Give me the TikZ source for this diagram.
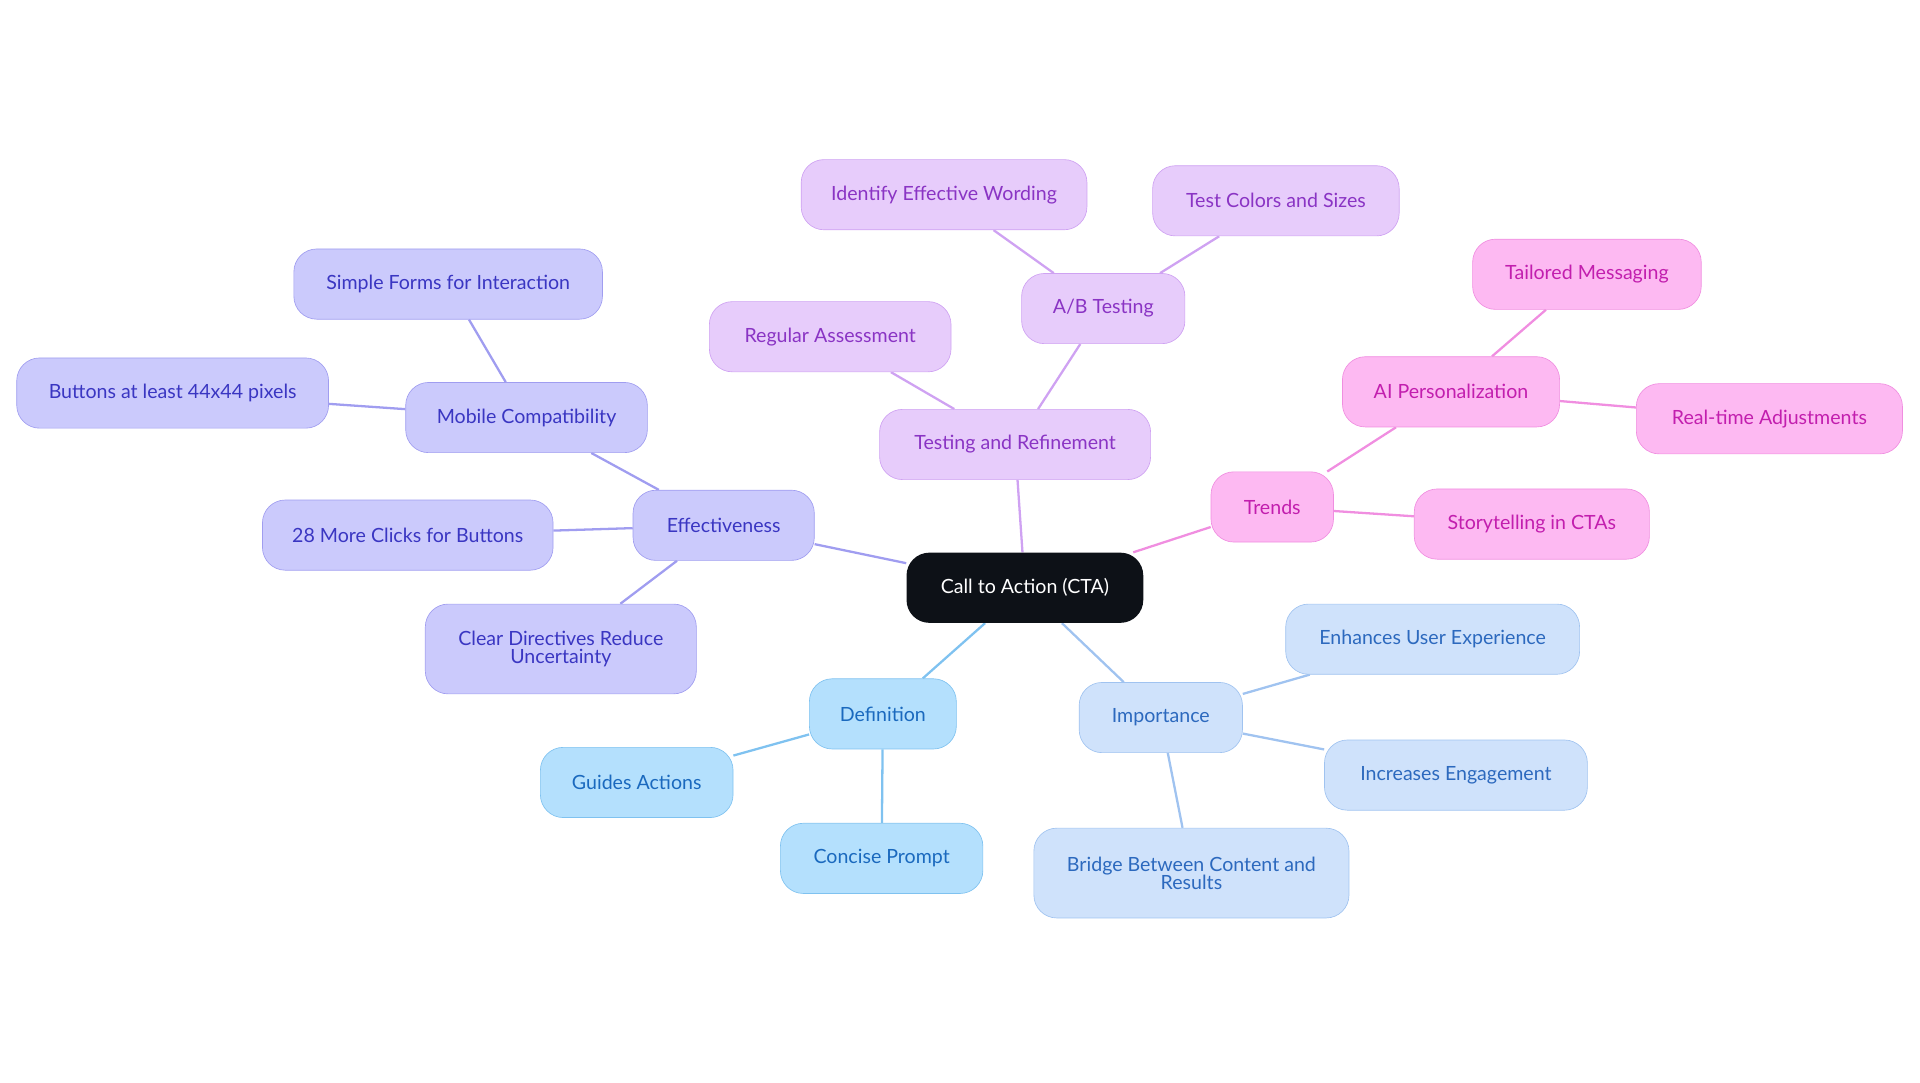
\documentclass[tikz,border=0pt]{standalone}
\usepackage{fontspec}
\setmainfont{Lato}
\usetikzlibrary{backgrounds}
\definecolor{rootfill}{HTML}{0D1117}
\definecolor{effFill}{HTML}{CBCAFC}\definecolor{effLine}{HTML}{A09DF0}\definecolor{effText}{HTML}{3A36C2}
\definecolor{tstFill}{HTML}{E7CCFB}\definecolor{tstLine}{HTML}{CFA2F2}\definecolor{tstText}{HTML}{8A34C4}
\definecolor{trdFill}{HTML}{FDB9F2}\definecolor{trdLine}{HTML}{F08EE0}\definecolor{trdText}{HTML}{C21EAE}
\definecolor{defFill}{HTML}{B4E0FD}\definecolor{defLine}{HTML}{7FC2F0}\definecolor{defText}{HTML}{1A69BE}
\definecolor{impFill}{HTML}{CFE2FB}\definecolor{impLine}{HTML}{A0C3F0}\definecolor{impText}{HTML}{2C69BE}
\tikzset{
  box/.style={rounded corners=14pt,minimum height=43pt,align=center,font=\fontsize{12}{12}\selectfont,inner sep=0pt},
  eff/.style={box,fill=effFill,draw=effLine,text=effText},
  tst/.style={box,fill=tstFill,draw=tstLine,text=tstText},
  trd/.style={box,fill=trdFill,draw=trdLine,text=trdText},
  def/.style={box,fill=defFill,draw=defLine,text=defText},
  imp/.style={box,fill=impFill,draw=impLine,text=impText},
  link/.style={line width=1.4pt}
}
\begin{document}
\begin{tikzpicture}[x=0.75pt,y=-0.75pt]
\useasboundingbox (0,0) rectangle (1568,884);
%%%ROOT
\node[box,fill=rootfill,text=white,minimum width=145pt] (cta) at (837,480) {Call to Action (CTA)};
%%%EFFECTIVENESS
\node[eff,minimum width=111pt] (eff) at (591,429) {Effectiveness};
\node[eff,minimum width=148pt] (mob) at (430,341) {Mobile Compatibility};
\node[eff,minimum width=189pt] (forms) at (366,232) {Simple Forms for Interaction};
\node[eff,minimum width=191pt] (btn) at (141,321) {Buttons at least 44x44 pixels};
\node[eff,minimum width=178pt] (clicks) at (333,437) {28 More Clicks for Buttons};
\node[eff,minimum width=166pt,minimum height=55pt] (clear) at (458,530) {Clear Directives Reduce\\[-1pt]Uncertainty};
%%%TESTING
\node[tst,minimum width=166pt] (tst) at (829,363) {Testing and Refinement};
\node[tst,minimum width=100pt] (ab) at (901,252) {A/B Testing};
\node[tst,minimum width=175pt] (word) at (771,159) {Identify Effective Wording};
\node[tst,minimum width=151pt] (color) at (1042,164) {Test Colors and Sizes};
\node[tst,minimum width=148pt] (assess) at (678,275) {Regular Assessment};
%%%TRENDS
\node[trd,minimum width=75pt] (trd) at (1039,414) {Trends};
\node[trd,minimum width=133pt] (ai) at (1185,320) {AI Personalization};
\node[trd,minimum width=140pt] (tail) at (1296,224) {Tailored Messaging};
\node[trd,minimum width=163pt] (real) at (1445,342) {Real-time Adjustments};
\node[trd,minimum width=144pt] (story) at (1251,428) {Storytelling in CTAs};
%%%DEFINITION
\node[def,minimum width=90pt] (dfn) at (721,583) {Definition};
\node[def,minimum width=118pt] (guide) at (520,639) {Guides Actions};
\node[def,minimum width=124pt] (concise) at (720,701) {Concise Prompt};
%%%IMPORTANCE
\node[imp,minimum width=100pt] (imp) at (948,586) {Importance};
\node[imp,minimum width=180pt] (ux) at (1170,522) {Enhances User Experience};
\node[imp,minimum width=161pt] (engage) at (1189,633) {Increases Engagement};
\node[imp,minimum width=193pt,minimum height=55pt] (bridge) at (973,713) {Bridge Between Content and\\[-1pt]Results};
%%%LINKS
\begin{scope}[on background layer]
\draw[link,effLine] (cta) -- (eff) (eff) -- (mob) (mob) -- (forms) (mob) -- (btn) (eff) -- (clicks) (eff) -- (clear);
\draw[link,tstLine] (cta) -- (tst) (tst) -- (ab) (ab) -- (word) (ab) -- (color) (tst) -- (assess);
\draw[link,trdLine] (cta) -- (trd) (trd) -- (ai) (ai) -- (tail) (ai) -- (real) (trd) -- (story);
\draw[link,defLine] (cta) -- (dfn) (dfn) -- (guide) (dfn) -- (concise);
\draw[link,impLine] (cta) -- (imp) (imp) -- (ux) (imp) -- (engage) (imp) -- (bridge);
\end{scope}
\end{tikzpicture}
\end{document}
